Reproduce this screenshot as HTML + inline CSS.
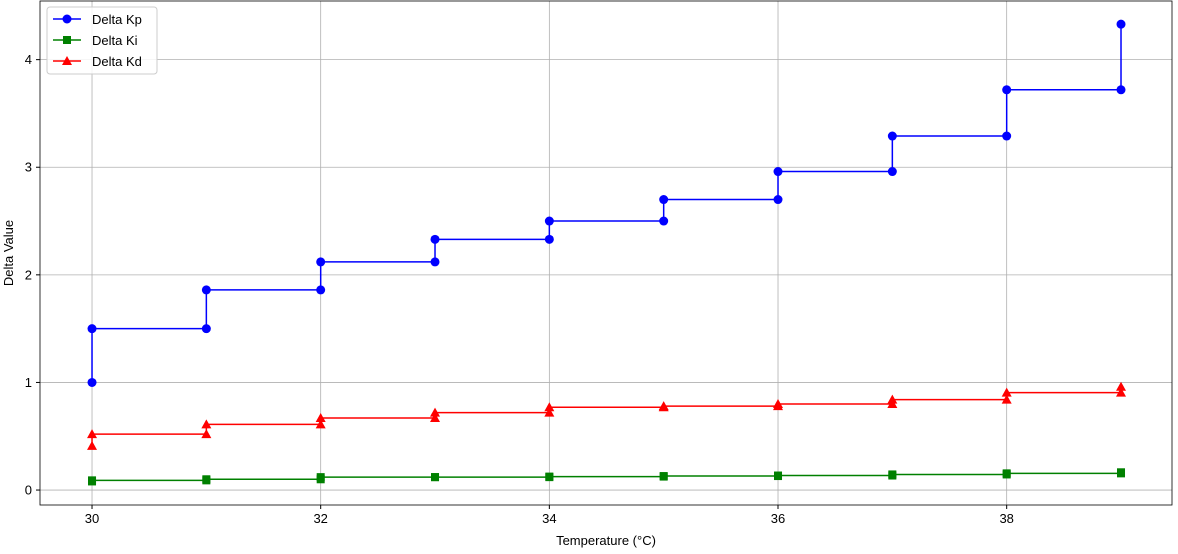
<!DOCTYPE html>
<html><head><meta charset="utf-8"><style>
body{margin:0;background:#fff;font-family:"Liberation Sans",sans-serif}
svg text{font-family:"Liberation Sans",sans-serif;font-size:13px;fill:#000}
</style></head><body>
<svg id="chart" width="1178" height="549" xmlns="http://www.w3.org/2000/svg"></svg>
<script>
const temps=[30,31,32,33,34,35,36,37,38,39];
const kpVals=[1.0,1.5,1.86,2.12,2.33,2.5,2.7,2.96,3.29,3.72,4.33];
const kiVals=[0.08,0.09,0.10,0.12,0.12,0.125,0.13,0.135,0.145,0.155,0.165];
const kdVals=[0.41,0.52,0.61,0.67,0.72,0.77,0.78,0.80,0.84,0.905,0.96];
const xTicks=[30,32,34,36,38];
const yTicks=[0,1,2,3,4];
const L=40,R=1172,T=1,B=505;
const xMin=29.545,xMax=39.446,yMin=-0.139,yMax=4.545;
const sx=v=>L+(v-xMin)/(xMax-xMin)*(R-L);
const sy=v=>B-(v-yMin)/(yMax-yMin)*(B-T);
const svg=document.getElementById('chart');
const NS='http://www.w3.org/2000/svg';
function mk(tag,attrs,parent){const e=document.createElementNS(NS,tag);for(const k in attrs)e.setAttribute(k,attrs[k]);(parent||svg).appendChild(e);return e;}
xTicks.forEach(t=>{const g=mk('line',{x1:sx(t),x2:sx(t),y1:T,y2:B,stroke:'#b0b0b0','stroke-width':0.8});

const tk=mk('line',{x1:sx(t),x2:sx(t),y1:B,y2:B+4,stroke:'#000'});

const tx=mk('text',{x:sx(t),y:B+18,'text-anchor':'middle'});tx.textContent=t;
});
yTicks.forEach(t=>{const g=mk('line',{x1:L,x2:R,y1:sy(t),y2:sy(t),stroke:'#b0b0b0','stroke-width':0.8});

const tk=mk('line',{x1:L-4,x2:L,y1:sy(t),y2:sy(t),stroke:'#000'});

const tx=mk('text',{x:L-8,y:sy(t)+4.5,'text-anchor':'end'});tx.textContent=t;
});
const frame=mk('rect',{x:L,y:T,width:R-L,height:B-T,fill:'none',stroke:'#000','stroke-width':0.8});

function stepPts(vals){const p=[[temps[0],vals[0]],[temps[0],vals[1]]];for(let i=1;i<temps.length;i++){p.push([temps[i],vals[i]]);p.push([temps[i],vals[i+1]]);}return p;}
function marker(shape,x,y,c,g){
 if(shape==='o'){const m=mk('circle',{cx:x,cy:y,r:4.5,fill:c},g);}
 else if(shape==='s'){const m=mk('rect',{x:x-4,y:y-4,width:8,height:8,fill:c},g);}
 else {const m=mk('polygon',{points:`${x},${y-5} ${x-5},${y+4} ${x+5},${y+4}`,fill:c},g);}
}
function series(vals,c,shape,name){
 const g=mk('g',{});
 const pts=stepPts(vals);
 const pl=mk('polyline',{points:pts.map(p=>sx(p[0])+','+sy(p[1])).join(' '),fill:'none',stroke:c,'stroke-width':1.5},g);
 
 pts.forEach(p=>marker(shape,sx(p[0]),sy(p[1]),c,g));
}
series(kpVals,'#0000ff','o','series-delta-kp');
series(kiVals,'#008000','s','series-delta-ki');
series(kdVals,'#ff0000','^','series-delta-kd');
</script>
<svg style="position:absolute;left:0;top:0" width="1178" height="549" xmlns="http://www.w3.org/2000/svg">
<text x="606" y="545" text-anchor="middle">Temperature (°C)</text>
<text transform="translate(13,253) rotate(-90)" text-anchor="middle">Delta Value</text>
<g>
<rect x="47" y="7" width="110" height="67" rx="3" fill="#fff" fill-opacity="0.85" stroke="#ccc"/>
<g><line x1="53" x2="81" y1="19" y2="19" stroke="#0000ff" stroke-width="1.5"/><circle cx="67" cy="19" r="4.5" fill="#0000ff"/><text x="92" y="24">Delta Kp</text></g>
<g><line x1="53" x2="81" y1="40" y2="40" stroke="#008000" stroke-width="1.5"/><rect x="63" y="36" width="8" height="8" fill="#008000"/><text x="92" y="45">Delta Ki</text></g>
<g><line x1="53" x2="81" y1="61" y2="61" stroke="#ff0000" stroke-width="1.5"/><polygon points="67,56 62,65 72,65" fill="#ff0000"/><text x="92" y="66">Delta Kd</text></g>
</g>
</svg>
</body></html>
